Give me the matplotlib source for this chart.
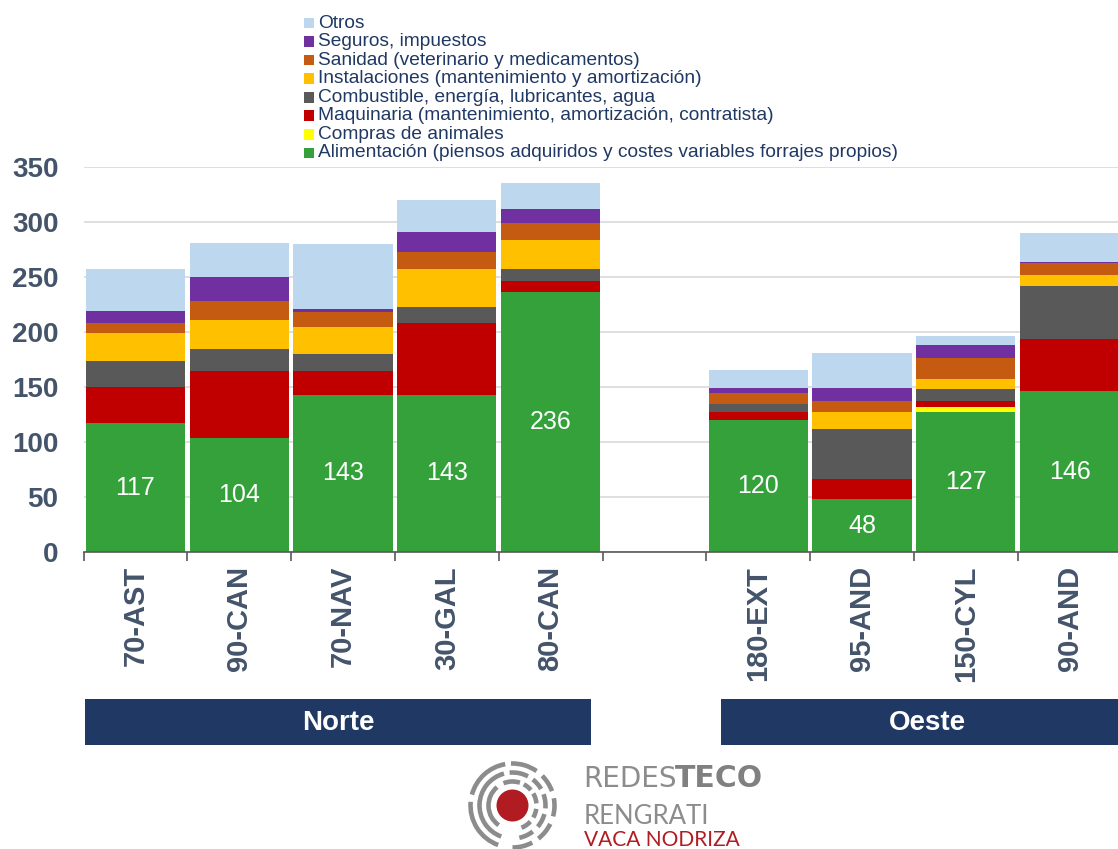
import matplotlib

matplotlib.use("Agg")
import matplotlib.pyplot as plt
import numpy as np
from matplotlib.patches import Arc, Circle, Rectangle

plt.rcParams["font.family"] = ["Liberation Sans", "DejaVu Sans"]

# data (EUR per animal, stacked)
farms = ["70-AST", "90-CAN", "70-NAV", "30-GAL", "80-CAN", "180-EXT", "95-AND", "150-CYL", "90-AND"]
slots = [0, 1, 2, 3, 4, 6, 7, 8, 9]  # slot 5 left empty between groups
groups = ["Norte", "Oeste"]

alimentacion = [117, 104, 143, 143, 236, 120, 48, 127, 146]
compras = [0, 0, 0, 0, 0, 0, 0, 5, 0]
maquinaria = [33, 61, 22, 65, 10, 7.5, 18, 5, 48]
combustible = [24, 19.5, 15, 15, 11.5, 7, 46, 11.5, 48]
instalaciones = [25.5, 26.5, 25, 34, 26.5, 0.5, 15, 9, 10]
sanidad = [9, 17, 13, 16, 15, 10, 10, 19, 11]
seguros = [10.5, 22, 3, 18, 13, 4, 12, 12, 1]
otros = [38, 31, 59, 29, 23, 16, 32, 8, 26]

series = [
    ("Alimentación (piensos adquiridos y costes variables forrajes propios)", alimentacion, "#34A13B"),
    ("Compras de animales", compras, "#FFFF00"),
    ("Maquinaria (mantenimiento, amortización, contratista)", maquinaria, "#C00000"),
    ("Combustible, energía, lubricantes, agua", combustible, "#595959"),
    ("Instalaciones (mantenimiento y amortización)", instalaciones, "#FFC000"),
    ("Sanidad (veterinario y medicamentos)", sanidad, "#C55A11"),
    ("Seguros, impuestos", seguros, "#7030A0"),
    ("Otros", otros, "#BDD7EE"),
]

TICK_COLOR = "#44546A"
NAVY = "#203864"
W, H = 1118, 849

fig = plt.figure(figsize=(W / 100, H / 100), dpi=100)
ax = fig.add_axes([83.5 / W, 1 - 552 / H, 1038 / W, 385 / H])

bottom = np.zeros(len(farms))
containers = []
for label, vals, color in series:
    vals = np.array(vals, dtype=float)
    bc = ax.bar(slots, vals, bottom=bottom, width=0.955, color=color, linewidth=0, label=label, zorder=2)
    containers.append(bc)
    bottom += vals

ax.bar_label(containers[0], fmt="{:.0f}", label_type="center", color="white", fontsize=18)

ax.set_xlim(-0.5, 9.5)
ax.set_ylim(0, 350)
ax.set_yticks(range(0, 351, 50))
ax.grid(axis="y", color="#D9D9D9", linewidth=1.2, zorder=0)
ax.set_axisbelow(True)
for side in ["top", "right", "left"]:
    ax.spines[side].set_visible(False)
ax.spines["bottom"].set_color("#595959")
ax.spines["bottom"].set_linewidth(1.2)

ax.set_xticks(slots)
ax.set_xticklabels(farms, rotation=90, fontsize=21, fontweight="bold", color=TICK_COLOR)
ax.set_xticks(np.arange(-0.5, 10, 1), minor=True)
ax.tick_params(axis="x", which="major", length=0, pad=10)
ax.tick_params(axis="x", which="minor", length=6.5, width=1.2, color="#595959", direction="out")
ax.tick_params(axis="y", length=0, pad=18, labelsize=20, labelcolor=TICK_COLOR)
for t in ax.get_yticklabels():
    t.set_fontweight("bold")

# overlay in pixel coordinates for legend, group boxes and logo
ov = fig.add_axes([0, 0, 1, 1], zorder=5)
ov.set_xlim(0, W)
ov.set_ylim(H, 0)
ov.set_axis_off()

for i, (label, vals, color) in enumerate(reversed(series)):
    yc = 23 + i * 18.55
    ov.add_patch(Rectangle((303.5, yc - 5.3), 10.6, 10.6, color=color, linewidth=0))
    ov.text(318, yc, label, fontsize=13.8, color="#1F3864", va="center", ha="left")

ov.add_patch(Rectangle((85, 699), 506, 46, color=NAVY, linewidth=0))
ov.add_patch(Rectangle((721, 699), 420, 46, color=NAVY, linewidth=0))
ov.text(338, 723, groups[0], fontsize=20, fontweight="bold", color="white", ha="center", va="center")
ov.text(927, 723, groups[1], fontsize=20, fontweight="bold", color="white", ha="center", va="center")

# logo
cx, cy = 512.5, 805.5
ov.add_patch(Circle((cx, cy), 16, color="#B01C22", linewidth=0))
rings = {
    24: [(130, 235), (72, 112), (40, 62), (5, 30), (-30, -8), (-68, -42)],
    33: [(105, 250), (62, 95), (30, 52), (-5, 20), (-40, -15), (-78, -52)],
    42: [(100, 165), (175, 250), (55, 92), (20, 45), (-15, 10), (-52, -26), (-90, -62)],
}
for r, segs in rings.items():
    for a0, a1 in segs:
        ov.add_patch(Arc((cx, cy), 2 * r, 2 * r, theta1=-a1, theta2=-a0, color="#8C8C8C", linewidth=3.3))

ov.text(583, 787, "REDES", fontsize=20, color="#8C8C8C", family=["DejaVu Sans"],
        ha="left", va="baseline")
ov.text(675, 787, "TECO", fontsize=21.5, color="#808080", family=["DejaVu Sans"],
        fontweight="bold", ha="left", va="baseline")
ov.text(584, 824, "RENGRATI", fontsize=18.5, color="#8C8C8C", family=["Lato", "DejaVu Sans"],
        ha="left", va="baseline")
ov.text(584, 846, "VACA NODRIZA", fontsize=15, color="#B01C22", family=["Lato", "DejaVu Sans"],
        ha="left", va="baseline")

fig.savefig("out.png", dpi=100)
